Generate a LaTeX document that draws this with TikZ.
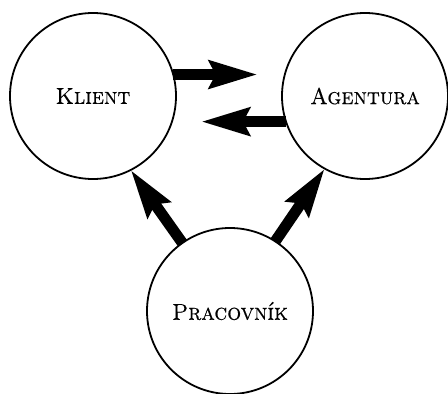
\documentclass[tikz,border=0pt]{standalone}
\usepackage{fontspec}
\newfontfamily\partycaps{Latin Modern Roman Caps}[FakeStretch=0.95, FakeBold=0.4]
\usetikzlibrary{arrows.meta}
\tikzset{
  party/.style={circle, draw, line width=1.8pt, minimum size=166pt, inner sep=0pt, outer sep=0pt,
    font=\partycaps\fontsize{23}{26}\selectfont},
  flow/.style={line width=11pt, -{Stealth[length=48pt, width=27pt, inset=6pt]}}
}
\begin{document}
\begin{tikzpicture}[x=1pt, y=-1pt]
  \useasboundingbox (0,0) rectangle (448,394);
  \node[party] (klient)   at (93,96)   {Klient};
  \node[party] (agentura) at (365,96)  {Agentura};
  \node[party] (prac)     at (230,311) {Pracovník};

  % exchange between client and agency
  \draw[flow, shorten >=27pt] (klient.15) -- (agentura.165);
  \draw[flow, shorten >=29pt] (agentura.198.3) -- (klient.-18.3);

  % the worker serves both
  \draw[flow] (prac.125) -- (klient.-63);
  \draw[flow] (prac.57) -- (agentura.-119);
\end{tikzpicture}
\end{document}
